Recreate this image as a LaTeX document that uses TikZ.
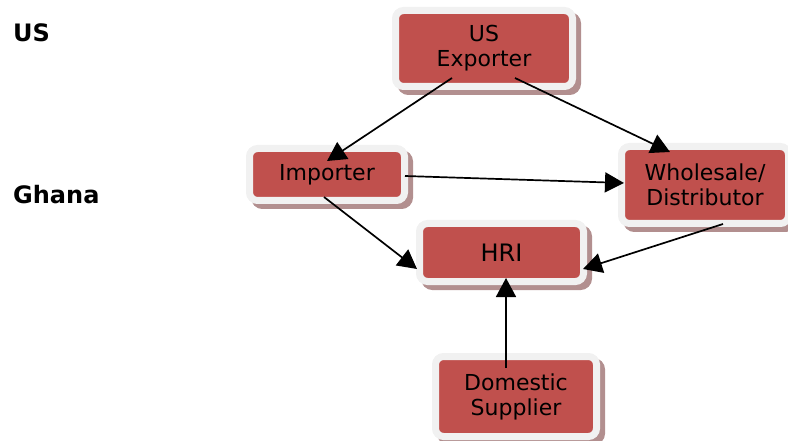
\documentclass[tikz,border=0pt]{standalone}
\usepackage{fontspec}
\setmainfont{DejaVu Sans}
\usetikzlibrary{arrows.meta,calc}
\definecolor{boxred}{RGB}{192,80,77}
\definecolor{rimgray}{RGB}{241,241,241}
\definecolor{shadowrose}{RGB}{178,143,143}
\begin{document}
\begin{tikzpicture}[x=1pt,y=-1pt,
  flowbox/.style={draw=rimgray, line width=7pt, fill=boxred, rounded corners=8pt,
    inner sep=0pt, align=center, text=black,
    font=\fontsize{22}{25}\selectfont,
    preaction={draw=shadowrose, fill=shadowrose,
      transform canvas={xshift=5pt,yshift=-5pt}}},
  link/.style={line width=1.7pt, -{Triangle[length=19pt,width=20pt]}},
  region/.style={anchor=base west, inner sep=0pt,
    font=\bfseries\fontsize{24}{28}\selectfont}]

  % canvas
  \useasboundingbox (0,0) rectangle (788,441);

  % country labels
  \node[region] (us) at (13,42) {US};
  \node[region] (gh) at (13,204) {Ghana};

  % supply chain boxes
  \node[flowbox, minimum width=177pt, minimum height=76pt] (exp) at (484,48.5) {US\\Exporter};
  \node[flowbox, minimum width=155pt, minimum height=52pt] (imp) at (327,174.5) {Importer};
  \node[flowbox, minimum width=167pt, minimum height=77pt] (whl) at (705,185) {Wholesale/\\Distributor};
  \node[flowbox, minimum width=164pt, minimum height=58pt,
        font=\fontsize{24}{28}\selectfont] (hri) at (501.5,252.5) {HRI};
  \node[flowbox, minimum width=161pt, minimum height=80pt] (dom) at (516,396.5) {Domestic\\Supplier};

  % flows
  \draw[link] ($(exp.center)+(-32,29.5)$) -- ($(imp.center)+(0,-13.5)$);
  \draw[link] ($(exp.center)+(31,29.5)$) -- ($(whl.center)+(-35,-33)$);
  \draw[link] ($(imp.center)+(78,1.5)$) -- ($(whl.center)+(-81,-2)$);
  \draw[link] ($(imp.center)+(-3,22.5)$) -- ($(hri.center)+(-84.5,16.5)$);
  \draw[link] ($(whl.center)+(18,39)$) -- ($(hri.center)+(81.5,16.5)$);
  \draw[link] ($(dom.center)+(-10,-28.5)$) -- ($(hri.center)+(4.5,25.5)$);
\end{tikzpicture}
\end{document}
